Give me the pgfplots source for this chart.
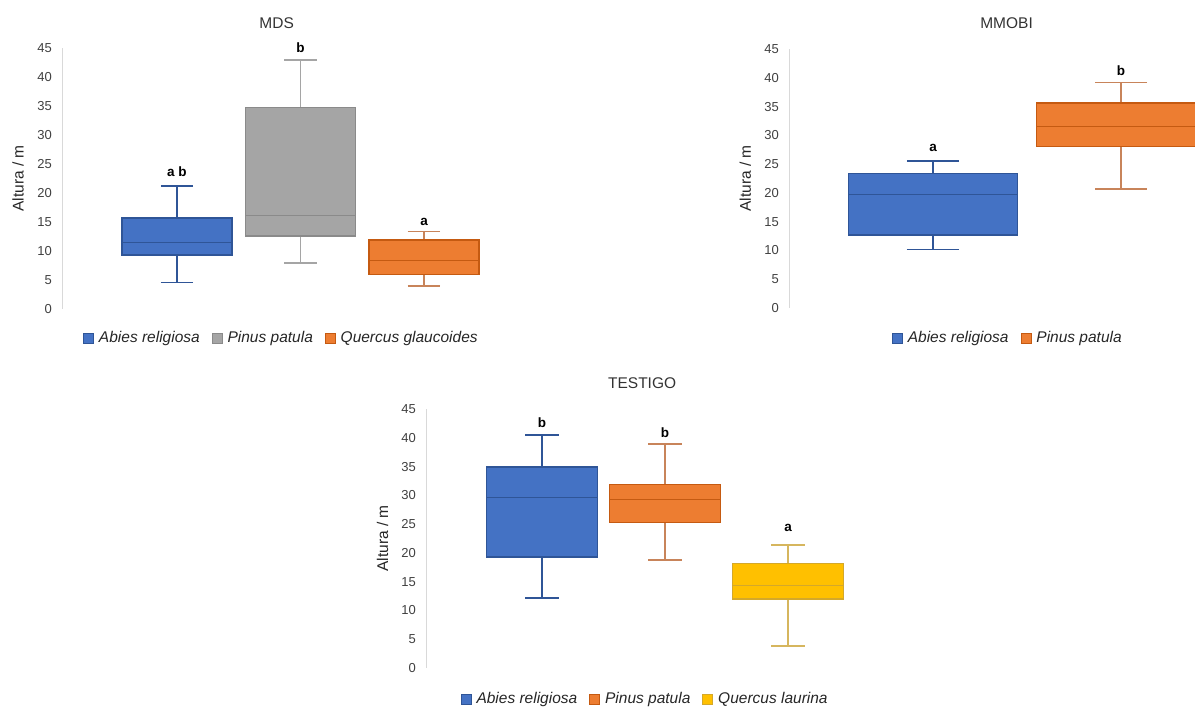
\documentclass[border=0pt]{standalone}
\usepackage{pgfplots}
\pgfplotsset{compat=1.18}
\usepgfplotslibrary{statistics}
\usepackage{fontspec}
\setmainfont{Liberation Sans}
\definecolor{cBlue}{HTML}{4472C4}
\definecolor{cBlueD}{HTML}{2F5597}
\definecolor{cGrey}{HTML}{A5A5A5}
\definecolor{cGreyD}{HTML}{8A8A8A}
\definecolor{cOr}{HTML}{ED7D31}
\definecolor{cOrD}{HTML}{C55A11}
\definecolor{cOrW}{HTML}{C8845A}
\definecolor{cYe}{HTML}{FFC000}
\definecolor{cYeD}{HTML}{D4A82A}
\definecolor{cYeW}{HTML}{D6B65E}
\definecolor{tickc}{HTML}{404040}
\definecolor{axc}{HTML}{D9D9D9}
\tikzset{lett/.style={font=\fontsize{13.5}{15}\selectfont\bfseries, anchor=center}}
\pgfplotsset{
  panel/.style={
    scale only axis, clip=false,
    boxplot/draw direction=y,
    ymin=0, ymax=45, ytick={0,5,...,45},
    axis x line=none, axis y line*=left,
    axis line style={draw=axc, line width=1pt},
    y axis line style={draw=axc},
    major tick length=0pt, ytick style={draw=none},
    /pgf/number format/assume math mode=true,
    yticklabel style={font=\fontsize{13}{15}\selectfont, text=tickc, inner sep=0pt, xshift=-10pt},
    every axis y label/.style={at={(axis description cs:-0.1,0.5)}, rotate=90, anchor=center, font=\fontsize{15.5}{18}\selectfont, text=black!85},
    ylabel={Altura / m},
    every axis title/.style={anchor=center, font=\fontsize{15.5}{18}\selectfont, text=black!80},
    legend columns=-1,
    legend style={draw=none, fill=none, font=\fontsize{15.5}{18}\selectfont\itshape, text=black!85,
      /tikz/every even column/.append style={column sep=10pt},
      /tikz/every odd column/.append style={column sep=3pt}, anchor=center},
  },
  bx/.style n args={3}{fill=#1, draw=#2, line width=1.3pt,
    boxplot/every whisker/.style={draw=#3, line width=1.5pt},
    boxplot/every median/.style={draw=#2, line width=1pt},
    legend image code/.code={\draw[fill=#1, draw=#2, line width=0.8pt] (0pt,-5pt) rectangle (10pt,5pt);}},
}
\begin{document}
\begin{tikzpicture}
\useasboundingbox (0pt,0pt) rectangle (1195pt,709pt);
% ---------------- MDS ----------------
\begin{axis}[panel, at={(62pt,400pt)}, anchor=south west,
  width=438pt, height=261pt, xmin=0.069, xmax=3.615,
  title={MDS}, title style={at={(axis description cs:0.49,1.096)}},
  legend style={at={(0.501,-0.111)}}]
\addplot+[bx={cBlue}{cBlueD}{cBlueD}, boxplot prepared={draw position=1, lower whisker=4.6, lower quartile=9.3, median=11.5, upper quartile=15.7, upper whisker=21.2, box extend=0.89, whisker extend=0.26}] coordinates {};
\addlegendentry{Abies religiosa}
\addplot+[bx={cGrey}{cGreyD}{cGrey}, boxplot prepared={draw position=2, lower whisker=7.9, lower quartile=12.6, median=16.2, upper quartile=34.7, upper whisker=42.9, box extend=0.89, whisker extend=0.26}] coordinates {};
\addlegendentry{Pinus patula}
\addplot+[bx={cOr}{cOrD}{cOrW}, boxplot prepared={draw position=3, lower whisker=4.0, lower quartile=6.0, median=8.4, upper quartile=11.9, upper whisker=13.4, box extend=0.89, whisker extend=0.26}] coordinates {};
\addlegendentry{Quercus glaucoides}
\node[lett] at (axis cs:1,23.6) {a b};
\node[lett] at (axis cs:2,45.0) {b};
\node[lett] at (axis cs:3,15.0) {a};
\end{axis}
% ---------------- MMOBI ----------------
\begin{axis}[panel, at={(789pt,401pt)}, anchor=south west,
  width=436pt, height=259pt, xmin=0.234, xmax=2.553,
  title={MMOBI}, title style={at={(axis description cs:0.499,1.1)}},
  legend style={at={(0.502,-0.116)}}]
\addplot+[bx={cBlue}{cBlueD}{cBlueD}, boxplot prepared={draw position=1, lower whisker=10.2, lower quartile=12.7, median=19.8, upper quartile=23.4, upper whisker=25.5, box extend=0.9, whisker extend=0.277}] coordinates {};
\addlegendentry{Abies religiosa}
\addplot+[bx={cOr}{cOrD}{cOrW}, boxplot prepared={draw position=2, lower whisker=20.7, lower quartile=28.0, median=31.6, upper quartile=35.6, upper whisker=39.2, box extend=0.9, whisker extend=0.277}] coordinates {};
\addlegendentry{Pinus patula}
\node[lett] at (axis cs:1,27.8) {a};
\node[lett] at (axis cs:2,41.3) {b};
\end{axis}
% ---------------- TESTIGO ----------------
\begin{axis}[panel, at={(426pt,41pt)}, anchor=south west,
  width=434pt, height=259pt, xmin=0.057, xmax=3.585,
  title={TESTIGO}, title style={at={(axis description cs:0.498,1.1)}},
  legend style={at={(0.505,-0.12)}}]
\addplot+[bx={cBlue}{cBlueD}{cBlueD}, boxplot prepared={draw position=1, lower whisker=12.2, lower quartile=19.3, median=29.7, upper quartile=34.9, upper whisker=40.5, box extend=0.9, whisker extend=0.27}] coordinates {};
\addlegendentry{Abies religiosa}
\addplot+[bx={cOr}{cOrD}{cOrW}, boxplot prepared={draw position=2, lower whisker=18.8, lower quartile=25.3, median=29.2, upper quartile=31.9, upper whisker=38.9, box extend=0.9, whisker extend=0.27}] coordinates {};
\addlegendentry{Pinus patula}
\addplot+[bx={cYe}{cYeD}{cYeW}, boxplot prepared={draw position=3, lower whisker=3.8, lower quartile=12.0, median=14.4, upper quartile=18.1, upper whisker=21.4, box extend=0.9, whisker extend=0.27}] coordinates {};
\addlegendentry{Quercus laurina}
\node[lett] at (axis cs:1,42.7) {b};
\node[lett] at (axis cs:2,40.8) {b};
\node[lett] at (axis cs:3,24.3) {a};
\end{axis}
\end{tikzpicture}
\end{document}
